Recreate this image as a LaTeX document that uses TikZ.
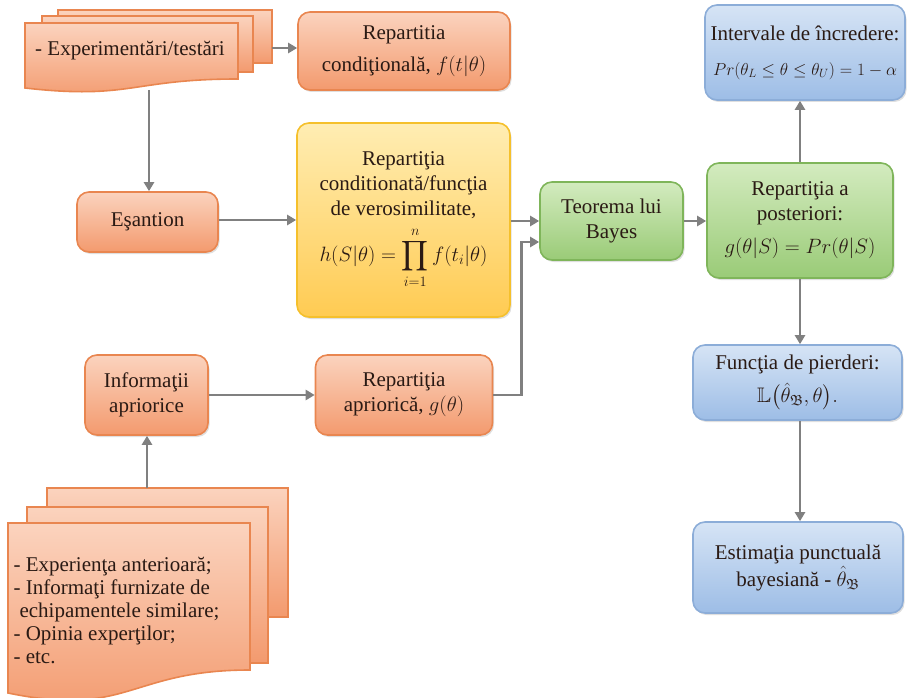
\documentclass[tikz,border=0pt]{standalone}
\usepackage{amsmath,amssymb}
\usepackage{fontspec}
\setmainfont{Liberation Serif}
\usetikzlibrary{arrows.meta,shadows}
\definecolor{orT}{HTML}{FBD3BE}
\definecolor{orB}{HTML}{F39A6E}
\definecolor{orD}{HTML}{E98650}
\definecolor{yeT}{HTML}{FFEDB3}
\definecolor{yeB}{HTML}{FFCB52}
\definecolor{yeD}{HTML}{F5C02C}
\definecolor{grT}{HTML}{D3EBBF}
\definecolor{grB}{HTML}{9ACB77}
\definecolor{grD}{HTML}{7FB55A}
\definecolor{blT}{HTML}{D6E4F5}
\definecolor{blB}{HTML}{9DBDE6}
\definecolor{blD}{HTML}{8CADD8}
\definecolor{arr}{HTML}{808080}
\definecolor{txt}{HTML}{2A1A14}
\newcommand{\bfs}{\fontsize{21}{25}\selectfont}
\tikzset{
  basebox/.style={rounded corners=12pt, line width=1.6pt, align=center, inner sep=2pt,
    font=\bfs, text=txt,
    drop shadow={opacity=0.25, shadow xshift=1.5pt, shadow yshift=-2pt}},
  orbox/.style={basebox, draw=orD, top color=orT, bottom color=orB},
  yebox/.style={basebox, draw=yeD, top color=yeT, bottom color=yeB},
  grbox/.style={basebox, draw=grD, top color=grT, bottom color=grB},
  blbox/.style={basebox, draw=blD, top color=blT, bottom color=blB},
  docsheet/.style={draw=orD, line width=1.6pt, top color=orT, bottom color=orB},
  conn/.style={draw=arr, line width=2.6pt},
  arrw/.style={conn, -{Triangle[length=9pt,width=10pt]}},
}
\begin{document}
\begin{tikzpicture}[x=1pt,y=-1pt]
\useasboundingbox (0,0) rectangle (908,698);

% ---- top document stack
\path[docsheet] (58,10) rectangle (272,63);
\path[docsheet] (42,16) rectangle (253,72);
\path[docsheet] (25,23) -- (238,23) -- (238,79)
   .. controls (131,79) and (131,100) .. (25,88) -- cycle;
\node[font=\bfs, text=txt] (expt) at (130,51) {- Experimentări/testări};
\coordinate (docAr) at (272,48);
\coordinate (docAb) at (149,90);

% ---- bottom document stack
\path[docsheet] (47,488) rectangle (288,617);
\path[docsheet] (27,507) rectangle (268,663);
\path[docsheet] (8,523) -- (250,523) -- (250,670)
   .. controls (129,670) and (129,718) .. (8,693) -- cycle;
\node[anchor=west, align=left, font=\fontsize{21}{23}\selectfont, text=txt] (docBtext) at (10,610)
  {- Experienţa anterioară;\\
   - Informaţi furnizate de\\
   \hspace*{6pt}echipamentele similare;\\
   - Opinia experţilor;\\
   - etc.};
\coordinate (docBt) at (147,488);

% ---- boxes
\node[orbox, minimum width=212pt, minimum height=78pt] (condit) at (404,51)
  {Repartitia\\[7pt] condiţională, $f(t|\theta)$};
\node[orbox, minimum width=141pt, minimum height=60pt] (esant) at (147.5,222) {Eşantion};
\node[yebox, minimum width=213pt, minimum height=194pt] (verosim) at (403.5,220)
  {Repartiţia\\ conditionată/funcţia\\ de verosimilitate,\\[7pt]
   $\displaystyle h(S|\theta)=\prod_{i=1}^{n} f(t_i|\theta)$};
\node[grbox, minimum width=143pt, minimum height=78pt] (bayes) at (611.5,221)
  {Teorema lui\\ Bayes};
\node[grbox, minimum width=186pt, minimum height=115pt] (post) at (800,220.5)
  {Repartiţia a\\ posteriori:\\[8pt] $g(\theta|S)=Pr(\theta|S)$};
\node[blbox, minimum width=200pt, minimum height=95pt] (interv) at (805,52.5)
  {Intervale de încredere:\\[10pt] {\fontsize{18}{22}\selectfont$Pr(\theta_L\le\theta\le\theta_U)=1-\alpha$}};
\node[blbox, minimum width=209pt, minimum height=75pt] (loss) at (797.5,382.5)
  {Funcţia de pierderi:\\[8pt] $\mathbb{L}\bigl(\hat{\theta}_{\mathfrak{B}},\theta\bigr).$};
\node[blbox, minimum width=210pt, minimum height=91pt] (estim) at (798,567.5)
  {Estimaţia punctuală\\[2pt] bayesiană - $\hat{\theta}_{\mathfrak{B}}$};
\node[orbox, minimum width=123pt, minimum height=80pt] (info) at (146.5,395)
  {Informaţii\\ apriorice};
\node[orbox, minimum width=177pt, minimum height=80pt] (aprior) at (404,395)
  {Repartiţia\\ apriorică, $g(\theta)$};

% ---- connectors
\draw[arrw] (docAr) -- (docAr -| condit.west);
\draw[arrw] (docAb) -- (docAb |- esant.north);
\draw[arrw] ([yshift=2pt]esant.east) -- ([yshift=2pt]esant.east -| verosim.west);
\draw[arrw] (verosim.east |- bayes.west) -- (bayes.west);
\draw[arrw] (aprior.east) -- ++(28,0) |- ([yshift=-21pt]bayes.west);
\draw[arrw] (bayes.east) -- (bayes.east -| post.west);
\draw[arrw] (post.north) -- (post.north |- interv.south);
\draw[arrw] (post.south) -- (post.south |- loss.north);
\draw[arrw] (loss.south -| post.south) -- (post.south |- estim.north);
\draw[arrw] (docBt) -- (docBt |- info.south);
\draw[arrw] (info.east) -- (aprior.west);
\end{tikzpicture}
\end{document}
